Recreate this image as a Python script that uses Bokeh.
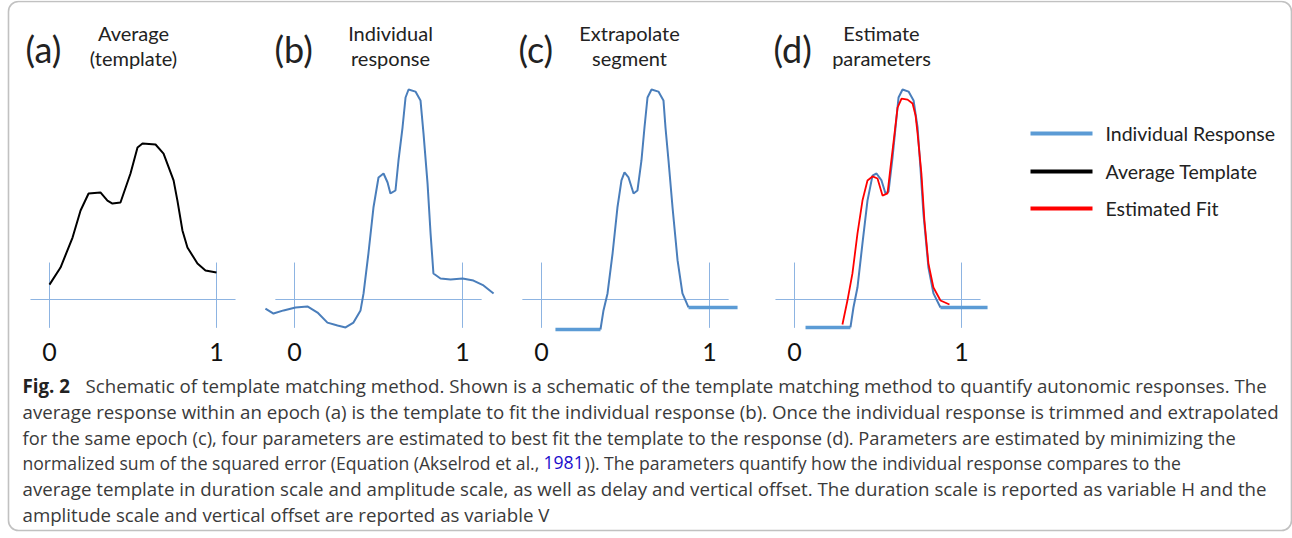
from bokeh.plotting import figure
from bokeh.models import Range1d, BoxAnnotation
from bokeh.core.properties import value
from bokeh.embed import file_html
from bokeh.resources import INLINE

W, H = 1292, 538

# ---- curves (x: epoch fraction, y: normalised amplitude) ----
# (a) average template
tmpl_x = [0.0, 0.066, 0.138, 0.186, 0.234, 0.305, 0.347, 0.377, 0.425, 0.485, 0.527,
          0.557, 0.635, 0.683, 0.743, 0.766, 0.796, 0.826, 0.886, 0.934, 1.0]
tmpl_y = [0.071, 0.152, 0.295, 0.424, 0.505, 0.510, 0.471, 0.457, 0.462, 0.600, 0.724,
          0.743, 0.738, 0.695, 0.567, 0.471, 0.329, 0.248, 0.171, 0.138, 0.129]

# (b) individual response
resp_x = [-0.173, -0.125, -0.065, 0.006, 0.077, 0.137, 0.196, 0.256, 0.304, 0.351, 0.393,
          0.411, 0.440, 0.470, 0.500, 0.530, 0.554, 0.571, 0.601, 0.619, 0.643, 0.661,
          0.679, 0.720, 0.750, 0.768, 0.792, 0.810, 0.827, 0.869, 0.929, 1.0, 1.065,
          1.125, 1.185]
resp_y = [-0.043, -0.067, -0.052, -0.038, -0.033, -0.062, -0.110, -0.124, -0.133, -0.110,
          -0.052, 0.029, 0.219, 0.438, 0.581, 0.600, 0.557, 0.505, 0.519, 0.662, 0.819,
          0.962, 1.0, 0.990, 0.948, 0.790, 0.552, 0.314, 0.124, 0.100, 0.095, 0.100,
          0.090, 0.067, 0.029]

# (c) trimmed segment with flat extrapolation at both ends
seg_x = [0.351, 0.369, 0.393, 0.423, 0.452, 0.476, 0.494, 0.518, 0.548, 0.571, 0.595,
         0.613, 0.631, 0.655, 0.696, 0.726, 0.738, 0.756, 0.780, 0.810, 0.839, 0.875]
seg_y = [-0.143, -0.052, 0.029, 0.219, 0.438, 0.567, 0.605, 0.581, 0.505, 0.519, 0.662,
         0.819, 0.962, 1.0, 0.990, 0.948, 0.819, 0.662, 0.438, 0.186, 0.029, -0.038]
seg_pre_x = [0.083, 0.351]
seg_pre_y = [-0.143, -0.143]
seg_post_x = [0.875, 1.167]
seg_post_y = [-0.038, -0.038]

# (d) response segment and estimated fit
fitresp_x = [0.335, 0.353, 0.377, 0.407, 0.437, 0.467, 0.491, 0.521, 0.545, 0.563, 0.587,
             0.605, 0.623, 0.647, 0.683, 0.713, 0.737, 0.754, 0.772, 0.802, 0.832, 0.874]
fitresp_y = [-0.133, -0.038, 0.057, 0.267, 0.471, 0.590, 0.600, 0.567, 0.505, 0.514,
             0.676, 0.819, 0.962, 1.0, 0.990, 0.948, 0.819, 0.629, 0.410, 0.152, 0.029,
             -0.038]
fitresp_pre_x = [0.066, 0.335]
fitresp_pre_y = [-0.133, -0.133]
fitresp_post_x = [0.874, 1.156]
fitresp_post_y = [-0.038, -0.038]

fit_x = [0.287, 0.317, 0.347, 0.377, 0.407, 0.437, 0.467, 0.497, 0.527, 0.557, 0.575,
         0.599, 0.617, 0.641, 0.677, 0.707, 0.725, 0.737, 0.760, 0.778, 0.802, 0.832,
         0.874, 0.928]
fit_y = [-0.119, -0.005, 0.124, 0.314, 0.471, 0.567, 0.586, 0.576, 0.495, 0.505, 0.629,
         0.790, 0.914, 0.957, 0.952, 0.933, 0.876, 0.790, 0.600, 0.376, 0.171, 0.057,
         -0.005, -0.024]

# ---- texts ----
panel_tags = ["(a)", "(b)", "(c)", "(d)"]
panel_titles = [["Average", "(template)"], ["Individual", "response"],
                ["Extrapolate", "segment"], ["Estimate", "parameters"]]
tick_values = [0, 1]
tick_labels = ["0", "1"]
legend_labels = ["Individual Response", "Average Template", "Estimated Fit"]

caption_bold = "Fig. 2"
caption_lines = [
    "Schematic of template matching method. Shown is a schematic of the template matching method to quantify autonomic responses. The",
    "average response within an epoch (a) is the template to fit the individual response (b). Once the individual response is trimmed and extrapolated",
    "for the same epoch (c), four parameters are estimated to best fit the template to the response (d). Parameters are estimated by minimizing the",
    "normalized sum of the squared error (Equation (Akselrod et al.,",
    "average template in duration scale and amplitude scale, as well as delay and vertical offset. The duration scale is reported as variable H and the",
    "amplitude scale and vertical offset are reported as variable V",
]
caption_cite = "1981"
caption_line4_tail = ")). The parameters quantify how the individual response compares to the"

# ---- colours ----
C_RESP = "#4A7EBB"
C_FLAT = "#5B9BD5"
C_AXIS = "#8DB4E2"
C_TMPL = "#000000"
C_FIT = "#FF0000"
C_TEXT = "#222222"
C_CAP = "#3a3a3a"

LABEL_FONT = value("Lato")
CAP_FONT = value("Open Sans")
cap_sizes = ["18.7px", "18.7px", "18.3px", "17.6px", "18.7px", "18.7px"]

# ---- page canvas: x/y in page pixels, y growing downward ----
p = figure(width=W, height=H, x_range=Range1d(0, W), y_range=Range1d(H, 0),
           output_backend="svg", toolbar_location=None, min_border=0,
           outline_line_color=None, background_fill_color="white",
           border_fill_color="white")
p.axis.visible = False
p.grid.visible = False

# each panel: pixel position of x=0, x=1 and of the y=0 baseline
panel_x0 = [49, 294, 541, 794]
panel_x1 = [216, 462, 709, 961]
BASE_Y = 299
UNIT_H = 210
p.extra_y_ranges = {"u": Range1d((BASE_Y - H) / UNIT_H, BASE_Y / UNIT_H)}
names = ["a", "b", "c", "d"]
for nm, x0, x1 in zip(names, panel_x0, panel_x1):
    span = x1 - x0
    p.extra_x_ranges[nm] = Range1d(-x0 / span, (W - x0) / span)

# frame box around the figure
p.add_layout(BoxAnnotation(left=8, right=1291, top=8, bottom=537,
                           left_units="screen", right_units="screen",
                           top_units="screen", bottom_units="screen",
                           fill_alpha=0, line_color="#333333", line_width=1.6,
                           border_radius=10))

# axes crosses in each panel
for nm in names:
    kw = dict(x_range_name=nm, y_range_name="u")
    p.segment(x0=[-0.114], y0=[0], x1=[1.114], y1=[0], line_color=C_AXIS, line_width=1, **kw)
    p.segment(x0=tick_values, y0=[-0.135, -0.135], x1=tick_values, y1=[0.176, 0.176],
              line_color=C_AXIS, line_width=1, **kw)
    p.text(x=tick_values, y=[-0.25, -0.25], text=tick_labels, text_font=LABEL_FONT,
           text_font_size="25px", text_align="center", text_baseline="alphabetic",
           text_color="#111111", **kw)

# (a)
p.line(tmpl_x, tmpl_y, x_range_name="a", y_range_name="u", line_color=C_TMPL, line_width=2)
# (b)
p.line(resp_x, resp_y, x_range_name="b", y_range_name="u", line_color=C_RESP, line_width=2)
# (c)
p.line(seg_pre_x, seg_pre_y, x_range_name="c", y_range_name="u", line_color=C_FLAT, line_width=3.5)
p.line(seg_post_x, seg_post_y, x_range_name="c", y_range_name="u", line_color=C_FLAT, line_width=3.5)
p.line(seg_x, seg_y, x_range_name="c", y_range_name="u", line_color=C_RESP, line_width=2)
# (d)
p.line(fitresp_pre_x, fitresp_pre_y, x_range_name="d", y_range_name="u", line_color=C_FLAT, line_width=3.5)
p.line(fitresp_post_x, fitresp_post_y, x_range_name="d", y_range_name="u", line_color=C_FLAT, line_width=3.5)
p.line(fitresp_x, fitresp_y, x_range_name="d", y_range_name="u", line_color=C_RESP, line_width=2)
p.line(fit_x, fit_y, x_range_name="d", y_range_name="u", line_color=C_FIT, line_width=1.8)

# panel tags and titles
tag_x = [25, 274, 518, 773]
title_cx = [133, 390, 629, 881]
p.text(x=tag_x, y=[48] * 4, text=panel_tags, text_font=LABEL_FONT, text_font_size="36px",
       text_align="left", text_baseline="middle", text_color=C_TEXT)
p.text(x=title_cx, y=[32] * 4, text=[t[0] for t in panel_titles], text_font=LABEL_FONT,
       text_font_size="20px", text_align="center", text_baseline="middle", text_color=C_TEXT)
p.text(x=title_cx, y=[57] * 4, text=[t[1] for t in panel_titles], text_font=LABEL_FONT,
       text_font_size="20px", text_align="center", text_baseline="middle", text_color=C_TEXT)

# legend
leg_y = [133, 171, 208]
leg_colors = [C_FLAT, C_TMPL, C_FIT]
p.segment(x0=[1030] * 3, y0=leg_y, x1=[1092] * 3, y1=leg_y, line_color=leg_colors, line_width=4)
p.text(x=[1105] * 3, y=leg_y, text=legend_labels, text_font=LABEL_FONT, text_font_size="19.5px",
       text_align="left", text_baseline="middle", text_color=C_TEXT)

# caption
cap_mid = [385, 411, 436.5, 462, 488, 514]
cap_left = 22
p.text(x=[cap_left], y=[cap_mid[0]], text=[caption_bold], text_font=CAP_FONT,
       text_font_size=cap_sizes[0], text_font_style="bold", text_baseline="middle",
       text_color="#222222")
for i, line in enumerate(caption_lines):
    p.text(x=[85 if i == 0 else cap_left], y=[cap_mid[i]], text=[line], text_font=CAP_FONT,
           text_font_size=cap_sizes[i], text_baseline="middle", text_color=C_CAP)
p.text(x=[543], y=[cap_mid[3]], text=[caption_cite], text_font=CAP_FONT,
       text_font_size=cap_sizes[3], text_baseline="middle", text_color="#1a0dcc")
p.text(x=[584], y=[cap_mid[3]], text=[caption_line4_tail], text_font=CAP_FONT,
       text_font_size=cap_sizes[3], text_baseline="middle", text_color=C_CAP)

open("out.html", "w").write(file_html(p, INLINE))
